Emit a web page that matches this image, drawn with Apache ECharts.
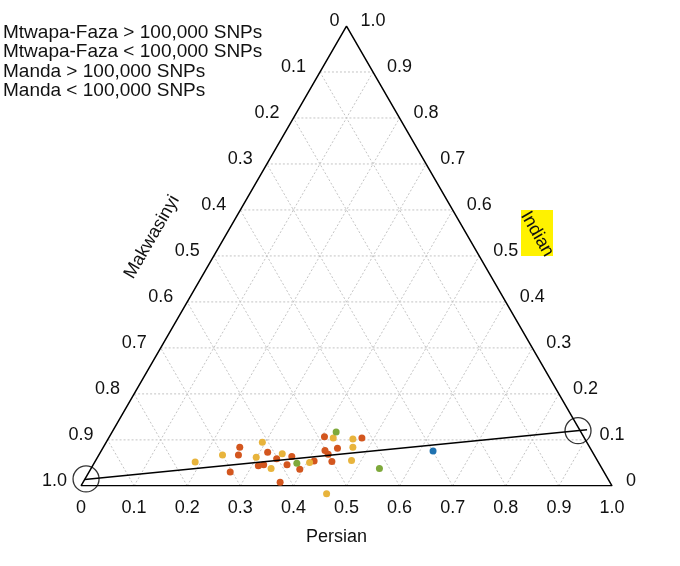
<!DOCTYPE html>
<html>
<head>
<meta charset="utf-8">
<style>
  html, body { margin: 0; padding: 0; background: #fff; }
  #chart { width: 680px; height: 566px; }
</style>
<script src="https://cdn.jsdelivr.net/npm/echarts@6/dist/echarts.min.js"></script>
</head>
<body>
<div id="chart"></div>
<script>
// points as [Persian, Indian]; Makwasinyi = 1 - Persian - Indian
var seriesNames = ['Mtwapa-Faza > 100,000 SNPs', 'Mtwapa-Faza < 100,000 SNPs', 'Manda > 100,000 SNPs', 'Manda < 100,000 SNPs'];
var mtwapaHigh = [
    [0.266, 0.030], [0.263, 0.067], [0.257, 0.084], [0.312, 0.044], [0.321, 0.046],
    [0.315, 0.073], [0.339, 0.059], [0.371, 0.008], [0.365, 0.046], [0.365, 0.064],
    [0.394, 0.036], [0.412, 0.054], [0.405, 0.107], [0.421, 0.077], [0.431, 0.069],
    [0.442, 0.082], [0.446, 0.053], [0.477, 0.104]
];
var mtwapaLow = [
    [0.189, 0.052], [0.233, 0.067], [0.299, 0.062], [0.294, 0.095], [0.339, 0.038],
    [0.344, 0.070], [0.405, 0.051], [0.423, 0.104], [0.461, 0.102], [0.470, 0.084],
    [0.482, 0.055], [0.471, -0.017]
];
var mandaHigh = [[0.382, 0.049], [0.422, 0.117], [0.543, 0.038]];
var mandaLow = [[0.625, 0.076]];
// line between the two circled reference points
var refLine = [[0.000, 0.014], [0.892, 0.122]];
var refPoints = [[0.002, 0.015], [0.876, 0.120]];
var ticks = [0, 0.1, 0.2, 0.3, 0.4, 0.5, 0.6, 0.7, 0.8, 0.9, 1.0];
var tickLabels = ['0', '0.1', '0.2', '0.3', '0.4', '0.5', '0.6', '0.7', '0.8', '0.9', '1.0'];
var colors = ['#d3561e', '#e8b43c', '#7ea93b', '#1f72b0'];

var H = Math.sqrt(3) / 2;
function toXY(p, i) {
    return [p + i / 2, i * H];
}
function conv(list) {
    return list.map(function (d) { return toXY(d[0], d[1]); });
}

// grid lines, one [x1, y1, x2, y2] per line
var gridLines = [];
for (var k = 1; k < ticks.length - 1; k++) {
    var t = ticks[k];
    var a, b;
    a = toXY(0, t); b = toXY(1 - t, t);             // Indian = t
    gridLines.push([a[0], a[1], b[0], b[1]]);
    a = toXY(t, 0); b = toXY(t, 1 - t);             // Persian = t
    gridLines.push([a[0], a[1], b[0], b[1]]);
    a = toXY(1 - t, 0); b = toXY(0, 1 - t);         // Makwasinyi = t
    gridLines.push([a[0], a[1], b[0], b[1]]);
}

// tick labels: [x, y, label index, side]  side 0 bottom, 1 left, 2 right
var tickData = [];
ticks.forEach(function (t, idx) {
    var b = toXY(t, 0);
    tickData.push([b[0], b[1], idx, 0]);            // Persian
    var l = toXY(0, 1 - t);
    tickData.push([l[0], l[1], idx, 1]);            // Makwasinyi
    var r = toXY(1 - t, t);
    tickData.push([r[0], r[1], idx, 2]);            // Indian
});

var textFont = 'Liberation Sans, Arial, Helvetica, sans-serif';

var myChart = echarts.init(document.getElementById('chart'));

var option = {
    animation: false,
    color: colors,
    legend: {
        data: seriesNames,
        orient: 'vertical',
        left: -2,
        top: 23,
        padding: 0,
        itemGap: 0,
        itemWidth: 0,
        itemHeight: 0,
        icon: 'none',
        selectedMode: false,
        textStyle: { fontFamily: textFont, fontSize: 19, color: '#111', lineHeight: 19.5 }
    },
    grid: { left: 81, top: 26, width: 531, height: 531 * H },
    xAxis: { type: 'value', min: 0, max: 1, show: false },
    yAxis: { type: 'value', min: 0, max: H, show: false },
    series: [
        {
            type: 'custom',
            name: 'grid',
            silent: true,
            clip: false,
            data: gridLines,
            encode: { x: [0, 2], y: [1, 3] },
            renderItem: function (params, api) {
                var p1 = api.coord([api.value(0), api.value(1)]);
                var p2 = api.coord([api.value(2), api.value(3)]);
                return {
                    type: 'line',
                    shape: { x1: p1[0], y1: p1[1], x2: p2[0], y2: p2[1] },
                    style: { stroke: '#c4c4c4', lineWidth: 1, lineDash: [2, 2] }
                };
            },
            z: 1
        },
        {
            type: 'line',
            name: 'frame',
            silent: true,
            symbol: 'none',
            data: [toXY(0, 0), toXY(1, 0), toXY(0, 1), toXY(0, 0)],
            lineStyle: { color: '#000', width: 1.5 },
            z: 2
        },
        {
            type: 'custom',
            name: 'ticks',
            silent: true,
            clip: false,
            data: tickData,
            encode: { x: 0, y: 1 },
            renderItem: function (params, api) {
                var p = api.coord([api.value(0), api.value(1)]);
                var side = api.value(3);
                var idx = api.value(2);
                var x = p[0], y = p[1], align = 'center';
                if (side === 0) { y += 22; }
                else if (side === 1) { x -= (idx === 0 ? 7 : 14); y -= 5; align = 'right'; }
                else { x += 14; y -= 5; align = 'left'; }
                return {
                    type: 'text',
                    style: {
                        x: x, y: y,
                        text: tickLabels[idx],
                        align: align,
                        verticalAlign: 'middle',
                        font: '18px ' + textFont,
                        fill: '#111'
                    }
                };
            },
            z: 3
        },
        {
            type: 'line',
            name: 'ref line',
            silent: true,
            symbol: 'none',
            data: conv(refLine),
            lineStyle: { color: '#000', width: 1.5 },
            z: 5
        },
        {
            type: 'scatter',
            name: 'ref points',
            silent: true,
            clip: false,
            symbolSize: 26,
            data: conv(refPoints),
            itemStyle: { color: 'rgba(0,0,0,0)', borderColor: '#000', borderWidth: 1.3 },
            z: 6
        },
        {
            type: 'scatter', name: seriesNames[0], clip: false, symbolSize: 7,
            data: conv(mtwapaHigh), itemStyle: { color: colors[0], opacity: 1 }, z: 4
        },
        {
            type: 'scatter', name: seriesNames[1], clip: false, symbolSize: 7,
            data: conv(mtwapaLow), itemStyle: { color: colors[1], opacity: 1 }, z: 4
        },
        {
            type: 'scatter', name: seriesNames[2], clip: false, symbolSize: 7,
            data: conv(mandaHigh), itemStyle: { color: colors[2], opacity: 1 }, z: 4
        },
        {
            type: 'scatter', name: seriesNames[3], clip: false, symbolSize: 7,
            data: conv(mandaLow), itemStyle: { color: colors[3], opacity: 1 }, z: 4
        }
    ],
    graphic: [
        {
            type: 'text', left: 306, top: 528,
            style: { text: 'Persian', font: '18px ' + textFont, fill: '#111' }
        },
        {
            type: 'text', x: 152, y: 237, rotation: Math.PI / 3,
            style: { text: 'Makwasinyi', font: '18px ' + textFont, fill: '#111', align: 'center', verticalAlign: 'middle' }
        },
        {
            type: 'rect', shape: { x: 521, y: 210, width: 32, height: 46 },
            style: { fill: '#fff200' }, z: 0
        },
        {
            type: 'text', x: 537, y: 234, rotation: -Math.PI / 3,
            style: { text: 'Indian', font: '18px ' + textFont, fill: '#111', align: 'center', verticalAlign: 'middle' }, z: 1
        }
    ]
};

myChart.setOption(option);
</script>
</body>
</html>
